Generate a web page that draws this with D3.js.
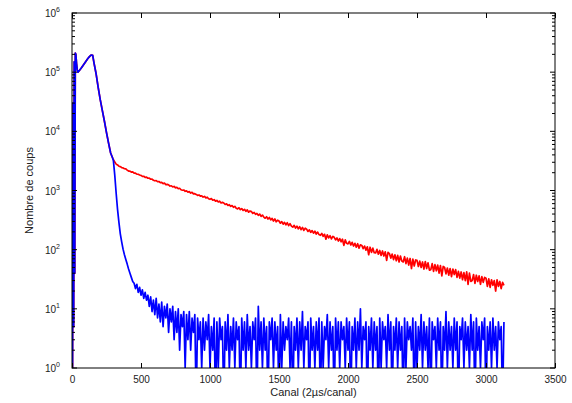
<!DOCTYPE html>
<html><head><meta charset="utf-8">
<script src="https://cdn.jsdelivr.net/npm/d3@7"></script>
<style>body{margin:0;background:#fff}svg{display:block}text{font-family:"Liberation Sans",Arial,sans-serif;fill:#222}</style>
</head><body><svg id="c" width="572" height="403"></svg>
<script>
// Shared part of both spectra (channel, counts)
const headChannels = [0, 4, 8, 12, 16, 20, 24, 28, 33, 38, 43, 55, 70, 85, 100, 115, 128, 140, 150, 160, 175, 190, 205, 220, 235, 250, 265, 280, 295];
const headCounts   = [0, 1, 30000, 5, 150000, 40, 210000, 200000, 140000, 110000, 100000, 108000, 120000, 135000, 152000, 170000, 185000, 195000, 192000, 141000, 93000, 55000, 34000, 22400, 14800, 9500, 6300, 4300, 3500];
// Tails sampled every 10 channels from channel 300
const tailStart = 300, tailStep = 10;
const redTail = [
3310, 3020, 2790, 2700, 2570, 2530, 2440, 2410, 2330, 2320,
2210, 2130, 2120, 2050, 2060, 1970, 1960, 1890, 1880, 1830,
1800, 1730, 1740, 1670, 1680, 1610, 1620, 1550, 1560, 1490,
1460, 1470, 1410, 1420, 1360, 1370, 1310, 1330, 1260, 1270,
1250, 1190, 1200, 1150, 1170, 1110, 1130, 1070, 1090, 1030,
1010, 1020, 970, 985, 940, 955, 905, 930, 875, 885,
860, 825, 840, 800, 815, 775, 795, 750, 770, 725,
710, 730, 685, 700, 660, 680, 640, 660, 615, 630,
615, 580, 595, 560, 575, 540, 555, 520, 540, 500,
490, 510, 475, 495, 460, 480, 445, 470, 430, 450,
440, 410, 425, 395, 410, 380, 400, 365, 385, 355,
340, 360, 330, 350, 318, 338, 305, 330, 296, 315,
305, 280, 298, 270, 290, 262, 285, 255, 275, 250,
240, 258, 232, 250, 225, 244, 218, 238, 212, 230,
222, 203, 216, 196, 210, 190, 205, 184, 198, 180,
175, 188, 168, 182, 150, 178, 158, 172, 152, 168,
162, 146, 158, 140, 154, 136, 150, 118, 146, 128,
125, 138, 120, 133, 115, 128, 110, 126, 106, 121,
118, 104, 115, 98, 112, 82, 110, 90, 106, 89,
88, 101, 84, 97, 80, 95, 78, 92, 66, 90,
86, 72, 84, 68, 82, 65, 80, 62, 78, 64,
62, 76, 58, 72, 55, 71, 48, 69, 53, 67,
66, 52, 64, 50, 62, 47, 63, 48, 60, 45,
46, 58, 43, 56, 44, 55, 40, 54, 36, 52,
50, 39, 49, 37, 48, 35, 47, 38, 46, 34,
43, 33, 42, 31, 41, 30, 42, 26, 40, 29,
30, 38, 27, 37, 29, 36, 26, 35, 28, 34,
33, 24, 32, 23, 31, 25, 30, 20, 31, 24,
29, 22, 28, 25];
const blueTail = [
3200, 1800, 900, 480, 290, 185, 135, 102, 82, 68, 57, 47, 40, 34, 29,
27, 22, 26, 19, 23, 17, 21, 15, 19, 14,
17, 11, 16, 9, 14, 8, 15, 7, 12, 6,
13, 5, 11, 7, 12, 4, 10, 6, 11, 3,
9, 4, 10, 2, 8, 5, 9, 1, 8, 3,
9, 2, 7, 4, 8, 0, 7, 3, 6, 1,
7, 2, 6, 3, 8, 1, 5, 2, 7, 0,
6, 1, 7, 3, 5, 0, 6, 2, 8, 1,
5, 2, 7, 1, 6, 3, 5, 0, 7, 2,
6, 1, 8, 2, 5, 1, 6, 3, 7, 0,
11, 2, 6, 1, 7, 2, 5, 0, 6, 3,
7, 1, 6, 2, 5, 0, 8, 1, 6, 2,
5, 3, 7, 1, 6, 0, 5, 2, 7, 1,
6, 2, 9, 1, 5, 3, 6, 0, 7, 2,
5, 1, 6, 2, 7, 0, 6, 1, 5, 3,
8, 1, 6, 2, 5, 0, 7, 2, 6, 1,
6, 3, 5, 1, 7, 2, 6, 0, 5, 2,
7, 1, 6, 2, 10, 1, 5, 3, 6, 0,
5, 2, 7, 1, 6, 2, 5, 0, 7, 1,
6, 3, 5, 1, 8, 2, 6, 0, 5, 2,
7, 1, 6, 2, 5, 0, 7, 1, 6, 3,
5, 2, 7, 0, 6, 1, 5, 2, 8, 1,
6, 2, 5, 1, 7, 0, 6, 3, 5, 1,
7, 2, 6, 0, 5, 2, 9, 1, 6, 2,
5, 1, 7, 2, 6, 0, 5, 3, 7, 1,
6, 2, 5, 1, 8, 2, 6, 0, 7, 2,
5, 1, 6, 3, 7, 0, 5, 2, 6, 1,
7, 2, 5, 1, 6, 3, 5, 0, 6];
const xTicks = [0, 500, 1000, 1500, 2000, 2500, 3000, 3500];
const yDecades = [0, 1, 2, 3, 4, 5, 6];
const xTitle = "Canal (2µs/canal)";
const yTitle = "Nombre de coups";

const svg = d3.select("#c");
const L = 72, R = 555, T = 13, B = 368;
const x = d3.scaleLinear().domain([0, 3500]).range([L, R]);
const y = d3.scaleLog().domain([1, 1e6]).range([B, T]);
const yv = v => v <= 0 ? B + 40 : y(v);

const head = headChannels.map((c, i) => [c, headCounts[i]]);
const red = head.concat(redTail.map((v, i) => [tailStart + i * tailStep, v]));
const blue = head.concat(blueTail.map((v, i) => [tailStart + i * tailStep, v]));

svg.append("defs").append("clipPath").attr("id", "clip")
  .append("rect").attr("x", L).attr("y", T).attr("width", R - L).attr("height", B - T);

const line = d3.line().x(d => x(d[0])).y(d => yv(d[1]));
const g = svg.append("g").attr("clip-path", "url(#clip)");
g.append("path").datum(red).attr("d", line).attr("fill", "none").attr("stroke", "#ff0000").attr("stroke-width", 1.7).attr("stroke-linejoin", "round");
g.append("path").datum(blue).attr("d", line).attr("fill", "none").attr("stroke", "#0000ff").attr("stroke-width", 1.7).attr("stroke-linejoin", "round");

// axes (MATLAB style, ticks inside, box)
const ax = svg.append("g");
ax.append("g").attr("transform", `translate(0,${B})`)
  .call(d3.axisBottom(x).tickValues(xTicks).tickSize(-5).tickPadding(8).tickFormat(d3.format("d")))
  .call(s => s.select(".domain").remove());
ax.append("g").attr("transform", `translate(0,${T})`)
  .call(d3.axisTop(x).tickValues(xTicks).tickSize(-5).tickFormat(""))
  .call(s => s.select(".domain").remove());
const minor = [];
yDecades.slice(0, -1).forEach(e => { for (let k = 2; k <= 9; k++) minor.push(k * Math.pow(10, e)); });
const majors = yDecades.map(e => Math.pow(10, e));
[[L, 1], [R, -1]].forEach(([px, dir]) => {
  ax.append("g").selectAll("line.mj").data(majors).join("line")
    .attr("x1", px).attr("x2", px + dir * 5).attr("y1", d => y(d)).attr("y2", d => y(d)).attr("stroke", "#000");
  ax.append("g").selectAll("line.mn").data(minor).join("line")
    .attr("x1", px).attr("x2", px + dir * 3).attr("y1", d => y(d)).attr("y2", d => y(d)).attr("stroke", "#000");
});
ax.selectAll(".tick line").attr("stroke", "#000");
ax.selectAll(".tick text").attr("font-size", 10).attr("fill", "#222").attr("font-family", "Liberation Sans, Arial, sans-serif");
const yl = ax.append("g").selectAll("text").data(yDecades).join("text")
  .attr("x", 60).attr("y", d => y(Math.pow(10, d)) + 4).attr("text-anchor", "end").attr("font-size", 10);
yl.append("tspan").text("10");
yl.append("tspan").attr("dy", -5).attr("font-size", 7).text(d => d);
ax.append("rect").attr("x", L).attr("y", T).attr("width", R - L).attr("height", B - T)
  .attr("fill", "none").attr("stroke", "#000").attr("stroke-width", 1);
svg.append("text").attr("x", (L + R) / 2).attr("y", 396).attr("text-anchor", "middle").attr("font-size", 11).text(xTitle);
svg.append("text").attr("transform", `translate(33,${(T + B) / 2}) rotate(-90)`).attr("text-anchor", "middle").attr("font-size", 11).text(yTitle);
</script></body></html>
